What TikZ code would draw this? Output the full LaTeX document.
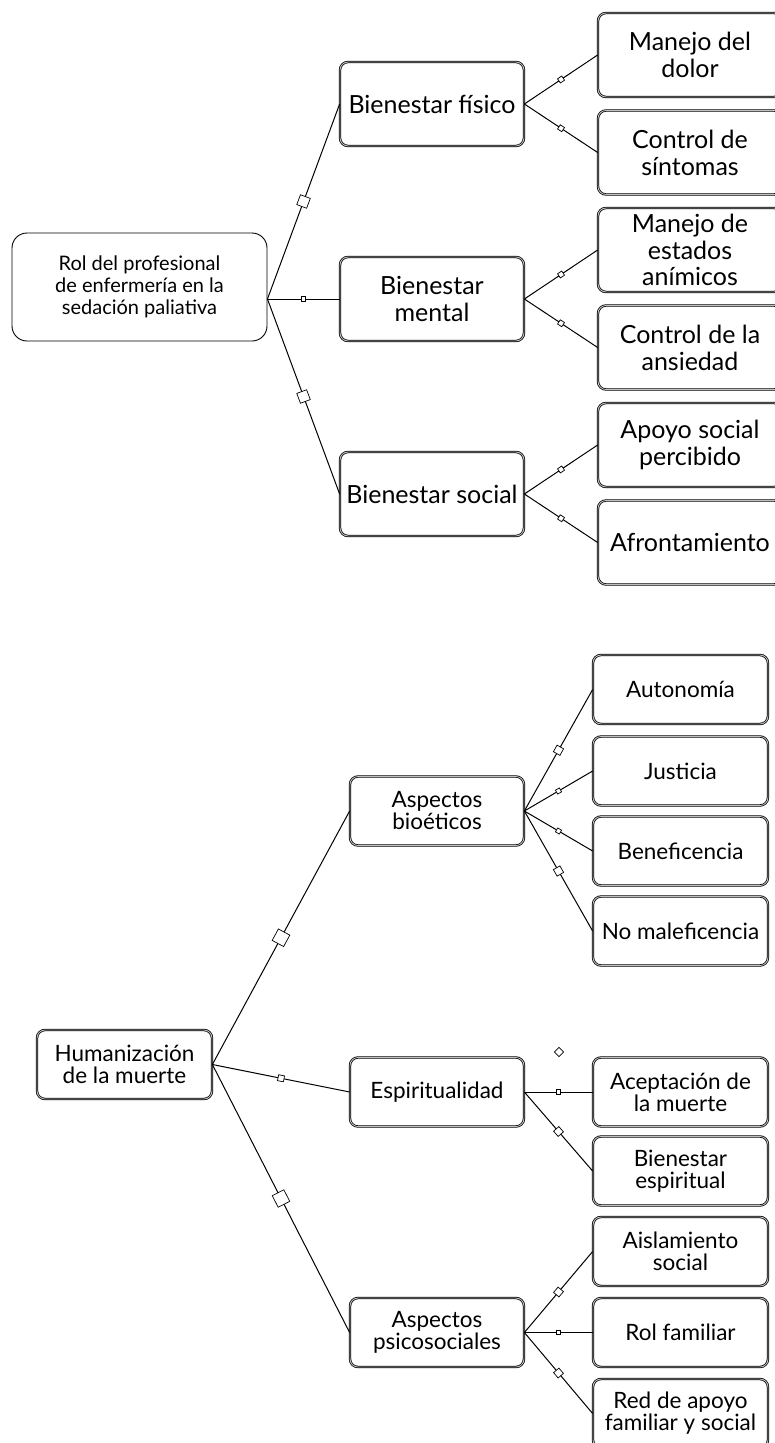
\documentclass[tikz,border=0pt]{standalone}
\usepackage{fontspec}
\setmainfont{Lato}
\begin{document}
\begin{tikzpicture}[x=1pt,y=-1pt,
  conn/.style={draw=black, line width=1pt},
  rootbox/.style={draw=black, line width=0.9pt, rounded corners=15pt, minimum width=255pt, minimum height=108pt, align=center, inner sep=0pt, font=\fontsize{20}{21.8}\selectfont},
  dbl/.style={draw=black, line width=0.75pt, double=gray!50, double distance=0.9pt, rounded corners=8pt, align=center, inner sep=0pt},
  topbox/.style={dbl, minimum width=184pt, minimum height=84pt, font=\fontsize{25}{26.8}\selectfont},
  botbox/.style={dbl, minimum width=174pt, minimum height=69pt, font=\fontsize{22.5}{22}\selectfont},
  sq/.style={draw=black, fill=white, line width=0.7pt, inner sep=0pt, minimum size=#1, sloped, pos=0.5}
]
\useasboundingbox (0,0) rectangle (775,1443);
\clip (0,0) rectangle (775,1443);

% ---------- top diagram ----------
\node[rootbox] (root) at (139.5,287) {Rol del profesional\\de enfermería en la\\sedación paliativa};
\node[topbox] (fis) at (432,104) {Bienestar físico};
\node[topbox] (men) at (432,299) {Bienestar\\mental};
\node[topbox] (soc) at (432,494) {Bienestar social};
\node[topbox] (c1) at (690,55) {Manejo del\\dolor};
\node[topbox] (c2) at (690,152.5) {Control de\\síntomas};
\node[topbox] (c3) at (690,250) {Manejo de\\estados\\anímicos};
\node[topbox] (c4) at (690,347.5) {Control de la\\ansiedad};
\node[topbox] (c5) at (690,445) {Apoyo social\\percibido};
\node[topbox] (c6) at (690,542.5) {Afrontamiento};

\coordinate (o1) at (root.east |- men.west);
\draw[conn] (o1) -- node[sq=10.5pt] (d1) {} (fis.west);
\draw[conn] (o1) -- node[sq=4.5pt] (d2) {} (men.west);
\draw[conn] (o1) -- node[sq=10.5pt] (d3) {} (soc.west);
\draw[conn] (fis.east) -- node[sq=5pt] (d4) {} (c1.west);
\draw[conn] (fis.east) -- node[sq=5pt] (d5) {} (c2.west);
\draw[conn] (men.east) -- node[sq=5pt] (d6) {} (c3.west);
\draw[conn] (men.east) -- node[sq=5pt] (d7) {} (c4.west);
\draw[conn] (soc.east) -- node[sq=5pt] (d8) {} (c5.west);
\draw[conn] (soc.east) -- node[sq=5pt] (d9) {} (c6.west);

% ---------- bottom diagram ----------
\node[botbox, minimum width=175pt] (hum) at (124.5,1064.5) {Humanización\\de la muerte};
\node[botbox] (bio) at (437,811) {Aspectos\\bioéticos};
\node[botbox] (esp) at (437,1092) {Espiritualidad};
\node[botbox] (psi) at (437,1332.5) {Aspectos\\psicosociales};
\node[botbox, minimum width=175pt] (a1) at (680.5,689.5) {Autonomía};
\node[botbox, minimum width=175pt] (a2) at (680.5,771) {Justicia};
\node[botbox, minimum width=175pt] (a3) at (680.5,851) {Beneficencia};
\node[botbox, minimum width=175pt] (a4) at (680.5,931) {No maleficencia};
\node[botbox, minimum width=175pt] (e1) at (680.5,1092) {Aceptación de\\la muerte};
\node[botbox, minimum width=175pt] (e2) at (680.5,1171) {Bienestar\\espiritual};
\node[botbox, minimum width=175pt] (p1) at (680.5,1251.5) {Aislamiento\\social};
\node[botbox, minimum width=175pt] (p2) at (680.5,1332.5) {Rol familiar};
\node[botbox, minimum width=175pt] (p3) at (680.5,1413.5) {Red de apoyo\\familiar y social};

\draw[conn] (hum.east) -- node[sq=13pt] (b1) {} (bio.west);
\draw[conn] (hum.east) -- node[sq=6pt] (b2) {} (esp.west);
\draw[conn] (hum.east) -- node[sq=13pt] (b3) {} (psi.west);
\draw[conn] (bio.east) -- node[sq=7.5pt] (b4) {} (a1.west);
\draw[conn] (bio.east) -- node[sq=4.5pt] (b5) {} (a2.west);
\draw[conn] (bio.east) -- node[sq=4.5pt] (b6) {} (a3.west);
\draw[conn] (bio.east) -- node[sq=7.5pt] (b7) {} (a4.west);
\draw[conn] (esp.east) -- node[sq=4.5pt] (b8) {} (e1.west);
\draw[conn] (esp.east) -- node[sq=7pt] (b9) {} (e2.west);
\draw[conn] (psi.east) -- node[sq=7pt] (b10) {} (p1.west);
\draw[conn] (psi.east) -- node[sq=4.5pt] (b11) {} (p2.west);
\draw[conn] (psi.east) -- node[sq=7pt] (b12) {} (p3.west);
\node[draw=black, fill=white, line width=0.8pt, inner sep=0pt, minimum size=6.5pt, rotate=45] (stray) at (559,1052) {};
\end{tikzpicture}
\end{document}
